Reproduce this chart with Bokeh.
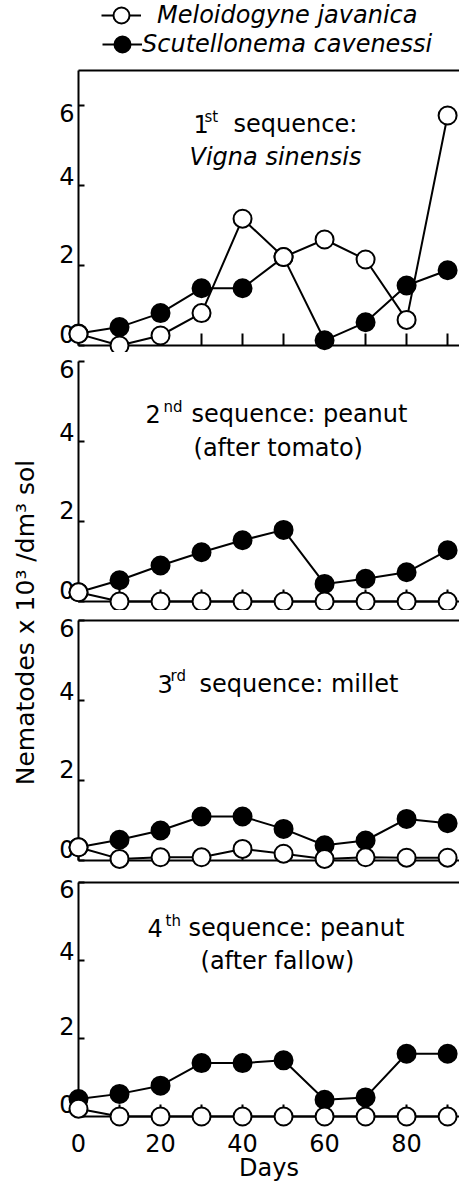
import math
from bokeh.plotting import figure
from bokeh.models import Range1d, FixedTicker, LinearAxis, Label, Legend, LegendItem
from bokeh.layouts import row, column
from bokeh.embed import file_html
from bokeh.resources import INLINE

# ---------------- data ----------------
days = [0, 10, 20, 30, 40, 50, 60, 70, 80, 90]
x_ticks = [0, 10, 20, 30, 40, 50, 60, 70, 80, 90]
x_tick_labels = ["0", "20", "40", "60", "80"]
y_ticks = [0, 2, 4, 6]

series_names = ["Meloidogyne javanica", "Scutellonema cavenessi"]

# 1st sequence: Vigna sinensis
mj_seq1 = [0.29, 0.00, 0.25, 0.81, 3.17, 2.21, 2.65, 2.15, 0.64, 5.75]
sc_seq1 = [0.30, 0.46, 0.81, 1.43, 1.43, 2.21, 0.13, 0.58, 1.50, 1.88]
# 2nd sequence: peanut (after tomato)
mj_seq2 = [0.23, 0.00, 0.00, 0.00, 0.00, 0.00, 0.00, 0.00, 0.00, 0.00]
sc_seq2 = [0.23, 0.53, 0.90, 1.23, 1.53, 1.79, 0.44, 0.57, 0.73, 1.28]
# 3rd sequence: millet
mj_seq3 = [0.33, 0.04, 0.08, 0.08, 0.29, 0.17, 0.04, 0.08, 0.07, 0.07]
sc_seq3 = [0.33, 0.52, 0.75, 1.10, 1.10, 0.79, 0.38, 0.50, 1.04, 0.93]
# 4th sequence: peanut (after fallow)
mj_seq4 = [0.20, 0.00, 0.00, 0.00, 0.00, 0.00, 0.00, 0.00, 0.00, 0.00]
sc_seq4 = [0.45, 0.58, 0.79, 1.37, 1.37, 1.44, 0.43, 0.49, 1.61, 1.61]

FONT = "DejaVu Sans"
XMAX = 92.9
PX_PER_DAY = 4.1
X0_PAGE = 78
PANEL_W = 415
LAB_W = 44
LEG_H = 68
# the printed y labels sit a little above their tick marks (the top one a little below)
LABEL_SHIFT_PX = [12, 12, 10, -7]


def style_axes(p, show_x_labels, ppu):
    xa = p.xaxis[0]
    ya = p.yaxis[0]
    for ax in (xa, ya):
        ax.axis_line_width = 2
        ax.axis_line_color = "black"
        ax.major_tick_line_width = 2
        ax.major_tick_line_color = "black"
        ax.major_tick_out = 0
        ax.minor_tick_in = 0
        ax.minor_tick_out = 0
        ax.major_label_text_font = FONT
        ax.major_label_text_font_size = "24px"
        ax.major_label_text_color = "black"
    xa.ticker = FixedTicker(ticks=x_ticks)
    xa.major_tick_in = 12
    if show_x_labels:
        xa.major_label_overrides = {t: (str(t) if str(t) in x_tick_labels else "") for t in x_ticks}
        xa.major_label_standoff = 17
        xa.axis_label = "Days"
        xa.axis_label_text_font = FONT
        xa.axis_label_text_font_size = "24px"
        xa.axis_label_text_font_style = "normal"
        xa.axis_label_text_color = "black"
        xa.axis_label_standoff = -1
    else:
        xa.major_label_text_font_size = "0px"
        xa.major_label_standoff = 0
    # tick marks on the main y axis
    ya.ticker = FixedTicker(ticks=y_ticks)
    ya.major_tick_in = 6
    ya.major_label_text_font_size = "0px"
    ya.major_label_standoff = 0
    # tick labels on a line-less companion axis, placed where the original prints them
    pos = [round(t + s / ppu, 3) for t, s in zip(y_ticks, LABEL_SHIFT_PX)]
    lab_ax = LinearAxis(ticker=FixedTicker(ticks=pos),
                        major_label_overrides={q: str(t) for q, t in zip(pos, y_ticks)},
                        axis_line_color=None, major_tick_line_color=None, minor_tick_line_color=None,
                        major_tick_in=0, major_tick_out=0, minor_tick_in=0, minor_tick_out=0,
                        major_label_standoff=4, major_label_text_font=FONT,
                        major_label_text_font_size="24px", major_label_text_color="black")
    p.add_layout(lab_ax, "left")


def add_title(p, axis_py, ppu, parts):
    for text, left_px, base_px, size, style in parts:
        p.add_layout(Label(x=(left_px - X0_PAGE) / PX_PER_DAY, y=(axis_py - base_px) / ppu,
                           text=text, text_align="left", text_baseline="alphabetic",
                           text_font=FONT, text_font_size=f"{size}px", text_font_style=style,
                           text_color="black"))


def panel(height, top, bottom, ymax, mj, sc, boxed, show_x_labels, axis_py, ppu, parts):
    p = figure(width=PANEL_W, height=height, x_range=Range1d(0, XMAX), y_range=Range1d(0, ymax),
               output_backend="svg", toolbar_location=None,
               min_border_left=34, min_border_right=0, min_border_top=top, min_border_bottom=bottom,
               outline_line_color=None, background_fill_color="white", border_fill_color="white")
    p.grid.visible = False
    style_axes(p, show_x_labels, ppu)
    if boxed:
        topax = LinearAxis(ticker=FixedTicker(ticks=[]), axis_line_width=2, axis_line_color="black",
                           major_tick_in=0, major_tick_out=0, minor_tick_in=0, minor_tick_out=0,
                           major_label_text_font_size="0px", major_label_standoff=0)
        p.add_layout(topax, "above")
    add_title(p, axis_py, ppu, parts)
    p.line(days, sc, line_color="black", line_width=2, level="overlay")
    p.scatter(days, sc, marker="circle", size=18, fill_color="black", line_color="black",
              line_width=2, level="overlay")
    p.line(days, mj, line_color="black", line_width=2, level="overlay")
    p.scatter(days, mj, marker="circle", size=18, fill_color="white", line_color="black",
              line_width=2, level="overlay")
    return p


p1 = panel(352 - LEG_H, 2, 7, 6.875, mj_seq1, sc_seq1, True, False, 345, 40,
           [("1", 193, 123, 24, "normal"), ("st", 204, 116, 15, "normal"),
            ("sequence:", 233, 123, 24, "normal"), ("Vigna sinensis", 189, 156, 24, "italic")])
p2 = panel(258, 9, 9, 6.0, mj_seq2, sc_seq2, False, False, 601, 40,
           [("2", 145, 413, 24, "normal"), ("nd", 163, 406, 15, "normal"),
            ("sequence: peanut", 191, 413, 24, "normal"), ("(after tomato)", 193, 447, 24, "normal")])
p3 = panel(260, 10, 10, 6.0, mj_seq3, sc_seq3, True, False, 860, 40,
           [("3", 157, 683, 24, "normal"), ("rd", 170, 675, 15, "normal"),
            ("sequence: millet", 199, 683, 24, "normal")])
p4 = panel(314, 12, 68, 6.0, mj_seq4, sc_seq4, True, True, 1116, 39,
           [("4", 147, 927, 24, "normal"), ("th", 165, 920, 15, "normal"),
            ("sequence: peanut", 188, 927, 24, "normal"), ("(after fallow)", 200, 960, 24, "normal")])

# ---------------- legend (own strip above panel 1) ----------------
nan = float("nan")
leg = figure(width=PANEL_W, height=LEG_H, x_range=Range1d(0, 1), y_range=Range1d(0, 1),
             output_backend="svg", toolbar_location=None, min_border=0,
             outline_line_color=None)
leg.axis.visible = False
leg.grid.visible = False
k1l = leg.line([nan], [nan], line_color="black", line_width=2)
k1s = leg.scatter([nan], [nan], marker="circle", size=18, fill_color="white", line_color="black", line_width=2)
k2l = leg.line([nan], [nan], line_color="black", line_width=2)
k2s = leg.scatter([nan], [nan], marker="circle", size=18, fill_color="black", line_color="black", line_width=2)
for item, loc, standoff in ((LegendItem(label=series_names[0], renderers=[k1l, k1s]), (23, 33), 16),
                            (LegendItem(label=series_names[1], renderers=[k2l, k2s]), (24, 4), 0)):
    lg = Legend(items=[item], location=loc, glyph_width=40, glyph_height=40, label_standoff=standoff,
                padding=0, margin=0, spacing=0, border_line_color=None, background_fill_alpha=0,
                label_text_font=FONT, label_text_font_size="24px", label_text_font_style="italic",
                label_text_color="black")
    leg.add_layout(lg)

# ---------------- y axis title ----------------
total_h = 352 + 258 + 260 + 314
lab = figure(width=LAB_W, height=total_h, x_range=Range1d(0, LAB_W), y_range=Range1d(0, total_h),
             output_backend="svg", toolbar_location=None, min_border=0, outline_line_color=None)
lab.axis.visible = False
lab.grid.visible = False
lab.add_layout(Label(x=25, y=total_h - 622, text="Nematodes x 10³ /dm³ sol",
                     angle=math.pi / 2, text_align="center", text_baseline="middle",
                     text_font=FONT, text_font_size="25px", text_color="black"))

layout = row(lab, column(leg, p1, p2, p3, p4))
open("out.html", "w").write(file_html(layout, INLINE))
